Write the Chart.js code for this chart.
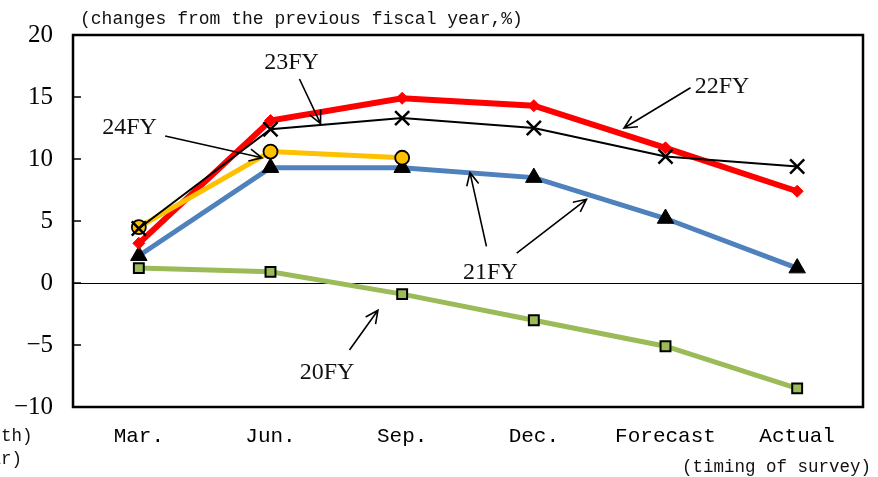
<!DOCTYPE html>
<html>
<head>
<meta charset="utf-8">
<script src="https://cdn.jsdelivr.net/npm/chart.js@4/dist/chart.umd.min.js"></script>
<style>
  html, body { margin: 0; padding: 0; background: #fff; }
  #wrap { width: 878px; height: 477px; }
</style>
</head>
<body>
<div id="wrap"><canvas id="chart" width="878" height="477"></canvas></div>
<script>
// datos
const categories = ['Mar.', 'Jun.', 'Sep.', 'Dec.', 'Forecast', 'Actual'];
const fy20 = [1.2, 0.9, -0.9, -3.0, -5.1, -8.5];
const fy21 = [2.2, 9.3, 9.3, 8.5, 5.2, 1.2];
const fy22 = [3.2, 13.1, 14.9, 14.3, 10.9, 7.4];
const fy23 = [4.4, 12.4, 13.3, 12.5, 10.2, 9.4];
const fy24 = [4.5, 10.6, 10.1, null, null, null];
const yTicks = [20, 15, 10, 5, 0, -5, -10];

// etiquetas con flechas (en unidades de los ejes: indice de categoria, valor)
const notes = [
  { text: '23FY', at: [1.16, 17.75], arrows: [[[1.22, 16.45], [1.38, 12.85]]] },
  { text: '24FY', at: [-0.07, 12.5], arrows: [[[0.20, 11.85], [0.935, 10.1]]] },
  { text: '22FY', at: [4.43, 15.8], arrows: [[[4.19, 15.75], [3.685, 12.5]]] },
  { text: '21FY', at: [2.67, 0.8], arrows: [[[2.64, 2.95], [2.515, 8.9]], [[2.87, 2.4], [3.40, 6.75]]] },
  { text: '20FY', at: [1.43, -7.25], arrows: [[[1.60, -5.4], [1.816, -2.2]]] }
];

const serif = '"Liberation Serif", "DejaVu Serif", serif';
const mono = '"Liberation Mono", "DejaVu Sans Mono", monospace';

function arrow(ctx, x1, y1, x2, y2) {
  const a = Math.atan2(y2 - y1, x2 - x1);
  const len = 14, spread = 0.45;
  ctx.beginPath();
  ctx.moveTo(x1, y1);
  ctx.lineTo(x2, y2);
  ctx.moveTo(x2 - len * Math.cos(a - spread), y2 - len * Math.sin(a - spread));
  ctx.lineTo(x2, y2);
  ctx.lineTo(x2 - len * Math.cos(a + spread), y2 - len * Math.sin(a + spread));
  ctx.stroke();
}

const extras = {
  id: 'extras',
  beforeDatasetsDraw(chart) {
    const { ctx, chartArea: ca, scales: { y } } = chart;
    ctx.save();
    // linea del cero
    const y0 = y.getPixelForValue(0);
    ctx.strokeStyle = '#000';
    ctx.lineWidth = 1;
    ctx.beginPath();
    ctx.moveTo(ca.left, y0 + 0.5);
    ctx.lineTo(ca.right, y0 + 0.5);
    ctx.stroke();
    // marcas hacia adentro
    ctx.lineWidth = 1.5;
    yTicks.forEach(v => {
      const py = y.getPixelForValue(v);
      ctx.beginPath();
      ctx.moveTo(ca.left, py);
      ctx.lineTo(ca.left + 8, py);
      ctx.stroke();
    });
    ctx.restore();
  },
  afterDatasetsDraw(chart) {
    const { ctx, chartArea: ca, scales: { x, y } } = chart;
    ctx.save();
    // marco
    ctx.strokeStyle = '#000';
    ctx.lineWidth = 2.5;
    ctx.strokeRect(ca.left, ca.top, ca.right - ca.left, ca.bottom - ca.top);

    // notas
    ctx.fillStyle = '#111';
    ctx.lineWidth = 1.6;
    ctx.font = '24px ' + serif;
    ctx.textAlign = 'center';
    ctx.textBaseline = 'middle';
    notes.forEach(n => {
      ctx.fillText(n.text, x.getPixelForValue(n.at[0]), y.getPixelForValue(n.at[1]));
      n.arrows.forEach(a => {
        arrow(ctx,
          x.getPixelForValue(a[0][0]), y.getPixelForValue(a[0][1]),
          x.getPixelForValue(a[1][0]), y.getPixelForValue(a[1][1]));
      });
    });

    // textos de ejes
    ctx.font = '18px ' + mono;
    ctx.textAlign = 'left';
    ctx.textBaseline = 'alphabetic';
    ctx.fillText('(changes from the previous fiscal year,%)', ca.left + 7, 24);
    ctx.font = '17.5px ' + mono;
    ctx.textAlign = 'right';
    ctx.fillText('(timing of survey)', 871, 472);
    ctx.textAlign = 'left';
    ctx.fillText('(month)', -41, 441);
    ctx.fillText('(year)', -41, 464);
    ctx.restore();
  }
};

const ctx = document.getElementById('chart').getContext('2d');
const chart = new Chart(ctx, {
  type: 'line',
  data: {
    labels: categories,
    datasets: [
      {
        label: '20FY', data: fy20, order: 5,
        borderColor: '#9BBB59', borderWidth: 5,
        pointStyle: 'rect', pointRadius: 7,
        pointBackgroundColor: '#9BBB59', pointBorderColor: '#000', pointBorderWidth: 2
      },
      {
        label: '21FY', data: fy21, order: 4,
        borderColor: '#4F81BD', borderWidth: 5,
        pointStyle: 'triangle', pointRadius: 9.5,
        pointBackgroundColor: '#000', pointBorderColor: '#000', pointBorderWidth: 1
      },
      {
        label: '22FY', data: fy22, order: 3,
        borderColor: '#FF0000', borderWidth: 6,
        pointStyle: 'rectRot', pointRadius: 6,
        pointBackgroundColor: '#FF0000', pointBorderColor: '#FF0000', pointBorderWidth: 1
      },
      {
        label: '24FY', data: fy24, order: 2,
        borderColor: '#FFC000', borderWidth: 5,
        pointStyle: 'circle', pointRadius: 7,
        pointBackgroundColor: '#FFC000', pointBorderColor: '#000', pointBorderWidth: 1.8
      },
      {
        label: '23FY', data: fy23, order: 1,
        borderColor: '#000', borderWidth: 2,
        pointStyle: 'crossRot', pointRadius: 10,
        pointBackgroundColor: '#000', pointBorderColor: '#000', pointBorderWidth: 2.5
      }
    ]
  },
  options: {
    responsive: false,
    animation: false,
    spanGaps: false,
    layout: { padding: { top: 34, right: 15, left: 0, bottom: 0 } },
    plugins: { legend: { display: false }, tooltip: { enabled: false } },
    elements: { line: { tension: 0 } },
    scales: {
      x: {
        offset: true,
        grid: { display: false, drawTicks: false },
        border: { display: false },
        ticks: { color: '#000', padding: 17, font: { family: mono, size: 21 } },
        afterFit(s) { s.height = 70; }
      },
      y: {
        min: -10, max: 20,
        afterBuildTicks(s) { s.ticks = yTicks.map(v => ({ value: v })); },
        grid: { display: false, drawTicks: false },
        border: { display: false },
        ticks: {
          color: '#000', padding: 20,
          font: { family: serif, size: 25 },
          callback: v => String(v).replace('-', '\u2212')
        },
        afterFit(s) { s.width = 73; }
      }
    }
  },
  plugins: [extras]
});
</script>
</body>
</html>
